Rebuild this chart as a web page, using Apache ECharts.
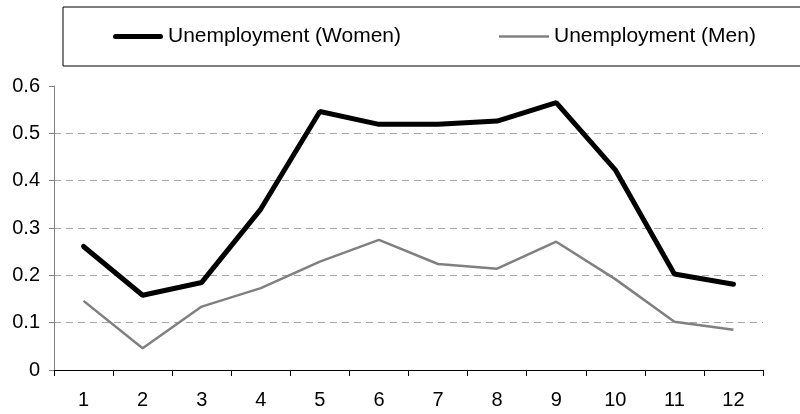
<!DOCTYPE html>
<html>
<head>
<meta charset="utf-8">
<script src="https://cdn.jsdelivr.net/npm/echarts@6/dist/echarts.min.js"></script>
<style>
  html, body { margin: 0; padding: 0; background: #fff; }
  #main { width: 800px; height: 414px; }
</style>
</head>
<body>
<div id="main"></div>
<script>
// months 1..12
var months = ['1', '2', '3', '4', '5', '6', '7', '8', '9', '10', '11', '12'];
var women = [0.261, 0.158, 0.185, 0.340, 0.546, 0.519, 0.519, 0.526, 0.565, 0.423, 0.203, 0.181];
var men = [0.146, 0.046, 0.134, 0.173, 0.229, 0.275, 0.224, 0.214, 0.271, 0.192, 0.102, 0.085];

var font = 'Liberation Sans, Arial, sans-serif';

var chart = echarts.init(document.getElementById('main'));

var option = {
  backgroundColor: '#fff',
  animation: false,
  legend: {
    orient: 'horizontal',
    left: 63,
    top: 7,
    width: 790,
    padding: [19, 60, 19, 50],
    itemGap: 98,
    itemWidth: 50,
    itemHeight: 20,
    symbolKeepAspect: true,
    borderColor: '#000',
    borderWidth: 1,
    textStyle: { fontFamily: font, fontSize: 21, color: '#000' },
    data: [
      { name: 'Unemployment (Women)', icon: 'path://M2.5,0 L47.5,0 A2.5,2.5 0 0 1 47.5,5 L2.5,5 A2.5,2.5 0 0 1 2.5,0 Z' },
      { name: 'Unemployment (Men)', icon: 'path://M0,0 L50,0 L50,2.5 L0,2.5 Z' }
    ]
  },
  grid: {
    left: 54,
    right: 37,
    top: 86,
    bottom: 44,
    containLabel: false
  },
  xAxis: {
    type: 'category',
    data: months,
    boundaryGap: true,
    axisLine: { lineStyle: { color: '#000', width: 1 } },
    axisTick: { show: true, length: 6, lineStyle: { color: '#000' } },
    axisLabel: { color: '#000', fontFamily: font, fontSize: 20, margin: 20 },
    splitLine: { show: false }
  },
  yAxis: {
    type: 'value',
    min: 0,
    max: 0.6,
    interval: 0.1,
    axisLine: { show: true, lineStyle: { color: '#808080', width: 1 } },
    axisTick: { show: true, length: 5, lineStyle: { color: '#808080' } },
    axisLabel: { color: '#000', fontFamily: font, fontSize: 20, margin: 14 },
    splitLine: {
      show: true,
      showMinLine: false,
      showMaxLine: false,
      lineStyle: { color: '#a6a6a6', type: [7, 5], width: 1 }
    }
  },
  series: [{
    name: 'Unemployment (Women)',
    type: 'line',
    data: women,
    symbol: 'none',
    z: 3,
    lineStyle: { color: '#000', width: 5, cap: 'round' },
    itemStyle: { color: '#000' }
  }, {
    name: 'Unemployment (Men)',
    type: 'line',
    data: men,
    symbol: 'none',
    z: 2,
    lineStyle: { color: '#808080', width: 2.5 },
    itemStyle: { color: '#808080' }
  }]
};

chart.setOption(option);
</script>
</body>
</html>
